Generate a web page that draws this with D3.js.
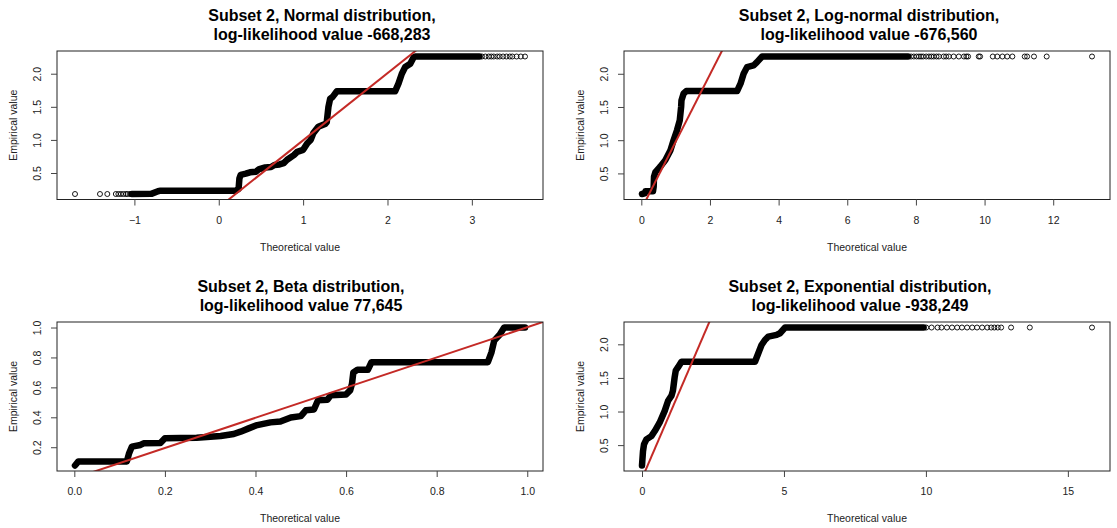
<!DOCTYPE html>
<html>
<head>
<meta charset="utf-8">
<script src="https://cdn.jsdelivr.net/npm/d3@7"></script>
<style>
body { margin: 0; background: #fff; }
svg { display: block; font-family: "Liberation Sans", Arial, sans-serif; }
</style>
</head>
<body>
<svg width="1117" height="528"></svg>
<script>
// QQ plots, subset 2
// band = [theoretical, empirical] along the dense part, tails = sparse open circles

const normalBand = [
    [-1.03, 0.183], [-0.80, 0.185], [-0.72, 0.225], [-0.69, 0.233], [0.20, 0.233],
    [0.235, 0.26], [0.245, 0.42], [0.26, 0.473], [0.32, 0.49], [0.37, 0.51],
    [0.44, 0.52], [0.48, 0.56], [0.55, 0.583], [0.62, 0.59], [0.66, 0.62],
    [0.72, 0.63], [0.77, 0.65], [0.81, 0.70], [0.89, 0.77], [0.93, 0.82],
    [1.0, 0.85], [1.05, 0.95], [1.09, 1.0], [1.12, 1.10], [1.18, 1.20],
    [1.26, 1.24], [1.28, 1.27], [1.30, 1.50], [1.32, 1.62], [1.35, 1.65],
    [1.38, 1.70], [1.40, 1.734], [2.09, 1.734], [2.13, 1.85], [2.17, 2.0],
    [2.21, 2.10], [2.27, 2.15], [2.31, 2.25], [2.33, 2.26], [3.09, 2.26]
];
const normalLowTail = [-1.704, -1.408, -1.321, -1.22, -1.19, -1.16, -1.13, -1.10, -1.08, -1.05];
const normalHighTail = [3.12, 3.16, 3.20, 3.23, 3.26, 3.30, 3.33, 3.37, 3.41, 3.45, 3.48, 3.53, 3.58, 3.63];
const normalLine = [-0.02, 1.014];   // intercept, slope

const lognormBand = [
    [0.02, 0.19], [0.10, 0.20], [0.12, 0.233], [0.34, 0.233], [0.36, 0.30],
    [0.37, 0.45], [0.41, 0.52], [0.55, 0.60], [0.70, 0.70], [0.85, 0.85],
    [0.94, 1.0], [1.04, 1.15], [1.12, 1.30], [1.16, 1.50], [1.17, 1.60],
    [1.23, 1.70], [1.31, 1.74], [2.79, 1.74], [2.89, 1.85], [2.98, 2.0],
    [3.08, 2.10], [3.27, 2.125], [3.37, 2.175], [3.52, 2.26], [7.77, 2.26]
];
const lognormLowTail = [];
const lognormHighTail = [7.86, 7.94, 8.02, 8.09, 8.15, 8.21, 8.30, 8.38, 8.45, 8.52, 8.60, 8.67,
    8.81, 8.88, 8.96, 9.10, 9.25, 9.40, 9.47, 9.52, 9.83, 9.87, 10.24, 10.37, 10.52, 10.66,
    10.81, 11.17, 11.24, 11.44, 11.81, 13.13];
const lognormLine = [-0.04, 1.015];

const betaBand = [
    [0.0015, 0.078], [0.009, 0.105], [0.116, 0.105], [0.121, 0.16], [0.127, 0.204],
    [0.146, 0.215], [0.153, 0.226], [0.19, 0.228], [0.20, 0.26], [0.27, 0.264],
    [0.323, 0.275], [0.352, 0.288], [0.367, 0.304], [0.385, 0.326], [0.404, 0.348],
    [0.433, 0.366], [0.455, 0.372], [0.478, 0.399], [0.50, 0.408], [0.511, 0.447],
    [0.529, 0.452], [0.538, 0.514], [0.559, 0.518], [0.566, 0.547], [0.60, 0.553],
    [0.609, 0.58], [0.613, 0.624], [0.616, 0.70], [0.625, 0.717], [0.648, 0.717],
    [0.656, 0.768], [0.913, 0.768], [0.921, 0.834], [0.927, 0.912], [0.939, 0.952],
    [0.949, 1.0], [0.995, 1.0]
];
const betaLowTail = [];
const betaHighTail = [];
const betaLine = [-0.007, 1.009];

const expBand = [
    [0.0, 0.197], [0.01, 0.258], [0.035, 0.41], [0.07, 0.51], [0.155, 0.585],
    [0.33, 0.634], [0.45, 0.71], [0.62, 0.834], [0.80, 1.01], [0.92, 1.16],
    [1.04, 1.236], [1.09, 1.31], [1.15, 1.51], [1.19, 1.61], [1.27, 1.66],
    [1.39, 1.74], [3.98, 1.74], [4.09, 1.86], [4.21, 1.99], [4.33, 2.065],
    [4.45, 2.115], [4.74, 2.14], [4.86, 2.165], [5.04, 2.25], [9.92, 2.25]
];
const expLowTail = [];
const expHighTail = [10.01, 10.20, 10.41, 10.55, 10.74, 10.92, 11.10, 11.27, 11.45, 11.63,
    11.80, 11.98, 12.16, 12.30, 12.41, 12.53, 12.65, 13.00, 13.66, 15.85];
const expLine = [0.003, 0.982];

const titles = [
    ["Subset 2, Normal distribution,", "log-likelihood value -668,283"],
    ["Subset 2, Log-normal distribution,", "log-likelihood value -676,560"],
    ["Subset 2, Beta distribution,", "log-likelihood value 77,645"],
    ["Subset 2, Exponential distribution,", "log-likelihood value -938,249"]
];

const normalXTicks = [-1, 0, 1, 2, 3];
const lognormXTicks = [0, 2, 4, 6, 8, 10, 12];
const betaXTicks = [0, 0.2, 0.4, 0.6, 0.8, 1.0];
const expXTicks = [0, 5, 10, 15];
const empYTicks = [0.5, 1.0, 1.5, 2.0];
const betaYTicks = [0.2, 0.4, 0.6, 0.8, 1.0];

// plot boxes
const cols = [{left: 57, right: 543}, {left: 624, right: 1110}];
const rows = [{top: 51, bottom: 199.5}, {top: 322, bottom: 471}];

const panels = [
    {band: normalBand, low: normalLowTail, high: normalHighTail, line: normalLine,
     xTicks: normalXTicks, yTicks: empYTicks, xFmt: d3.format("d"), yFmt: d3.format(".1f"),
     col: 0, row: 0, titleX: 322},
    {band: lognormBand, low: lognormLowTail, high: lognormHighTail, line: lognormLine,
     xTicks: lognormXTicks, yTicks: empYTicks, xFmt: d3.format("d"), yFmt: d3.format(".1f"),
     col: 1, row: 0, titleX: 869},
    {band: betaBand, low: betaLowTail, high: betaHighTail, line: betaLine,
     xTicks: betaXTicks, yTicks: betaYTicks, xFmt: d3.format(".1f"), yFmt: d3.format(".1f"),
     col: 0, row: 1, titleX: 301},
    {band: expBand, low: expLowTail, high: expHighTail, line: expLine,
     xTicks: expXTicks, yTicks: empYTicks, xFmt: d3.format("d"), yFmt: d3.format(".1f"),
     col: 1, row: 1, titleX: 860}
];

const svg = d3.select("svg");

// R style: data range stretched by 4% on each side
function padExtent(values) {
    const [lo, hi] = d3.extent(values);
    const pad = (hi - lo) * 0.04;
    return [lo - pad, hi + pad];
}

function drawPanel(p, i) {
    const c = cols[p.col];
    const r = rows[p.row];
    const band = p.band;
    const yLow = band[0][1];
    const yHigh = band[band.length - 1][1];

    const allX = band.map(d => d[0]).concat(p.low, p.high);
    const allY = band.map(d => d[1]);

    const x = d3.scaleLinear().domain(padExtent(allX)).range([c.left, c.right]);
    const y = d3.scaleLinear().domain(padExtent(allY)).range([r.bottom, r.top]);

    const g = svg.append("g");

    g.append("clipPath")
        .attr("id", "clip" + i)
        .append("rect")
        .attr("x", c.left)
        .attr("y", r.top)
        .attr("width", c.right - c.left)
        .attr("height", r.bottom - r.top);

    // dense part of the points
    const line = d3.line().x(d => x(d[0])).y(d => y(d[1]));
    g.append("path")
        .datum(band)
        .attr("d", line)
        .attr("fill", "none")
        .attr("stroke", "#000")
        .attr("stroke-width", 6.5)
        .attr("stroke-linejoin", "round")
        .attr("stroke-linecap", "round");

    const tails = p.low.map(v => [v, yLow]).concat(p.high.map(v => [v, yHigh]));
    g.selectAll("circle.tail")
        .data(tails)
        .enter().append("circle")
        .attr("class", "tail")
        .attr("cx", d => x(d[0]))
        .attr("cy", d => y(d[1]))
        .attr("r", 2.5)
        .attr("fill", "none")
        .attr("stroke", "#000")
        .attr("stroke-width", 0.9);

    // fitted reference line
    const [a, b] = p.line;
    const xd = x.domain();
    g.append("line")
        .attr("clip-path", "url(#clip" + i + ")")
        .attr("x1", x(xd[0]))
        .attr("y1", y(a + b * xd[0]))
        .attr("x2", x(xd[1]))
        .attr("y2", y(a + b * xd[1]))
        .attr("stroke", "#c42a26")
        .attr("stroke-width", 2);

    // box
    g.append("rect")
        .attr("x", c.left)
        .attr("y", r.top)
        .attr("width", c.right - c.left)
        .attr("height", r.bottom - r.top)
        .attr("fill", "none")
        .attr("stroke", "#222")
        .attr("stroke-width", 1);

    const xAxis = g.append("g")
        .attr("transform", "translate(0," + r.bottom + ")")
        .call(d3.axisBottom(x).tickValues(p.xTicks).tickFormat(p.xFmt).tickSize(6).tickPadding(11));
    xAxis.select(".domain").remove();
    xAxis.selectAll(".tick line").attr("stroke", "#444");
    xAxis.selectAll("text")
        .attr("font-size", 10.5)
        .attr("font-family", "Liberation Sans, Arial, sans-serif")
        .attr("fill", "#222");

    const yAxis = g.append("g")
        .attr("transform", "translate(" + c.left + ",0)")
        .call(d3.axisLeft(y).tickValues(p.yTicks).tickFormat(p.yFmt).tickSize(6));
    yAxis.select(".domain").remove();
    yAxis.selectAll(".tick line").attr("stroke", "#444");
    yAxis.selectAll("text")
        .attr("x", null)
        .attr("dy", null)
        .attr("text-anchor", "middle")
        .attr("transform", "translate(-16,0) rotate(-90)")
        .attr("font-size", 10.5)
        .attr("font-family", "Liberation Sans, Arial, sans-serif")
        .attr("fill", "#222");

    // titles and axis labels
    const cx = (c.left + c.right) / 2;
    g.append("text")
        .attr("x", p.titleX).attr("y", r.top - 30)
        .attr("text-anchor", "middle")
        .attr("font-size", 16).attr("font-weight", "bold")
        .text(titles[i][0]);
    g.append("text")
        .attr("x", p.titleX).attr("y", r.top - 11.5)
        .attr("text-anchor", "middle")
        .attr("font-size", 16).attr("font-weight", "bold")
        .text(titles[i][1]);

    g.append("text")
        .attr("x", cx).attr("y", r.bottom + 51)
        .attr("text-anchor", "middle")
        .attr("font-size", 10.5).attr("fill", "#222")
        .text("Theoretical value");

    g.append("text")
        .attr("transform", "translate(" + (c.left - 40) + "," + ((r.top + r.bottom) / 2) + ") rotate(-90)")
        .attr("text-anchor", "middle")
        .attr("font-size", 10.5).attr("fill", "#222")
        .text("Empirical value");
}

panels.forEach(drawPanel);
</script>
</body>
</html>
